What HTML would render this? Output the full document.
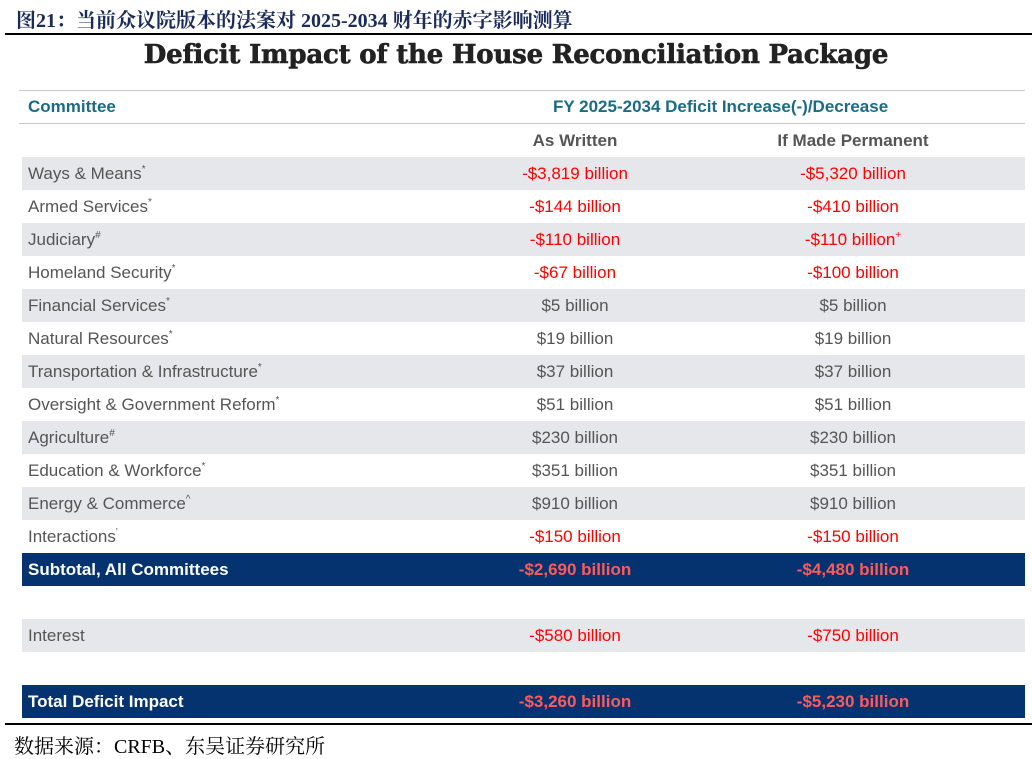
<!DOCTYPE html>
<html><head><meta charset="utf-8"><style>
body{margin:0;width:1032px;height:755px;background:#fff;position:relative;overflow:hidden;font-family:"Liberation Sans",sans-serif}
.a{position:absolute}
.r{position:absolute;left:22px;width:1003px;height:33px;font-size:17px;color:#555}
.r span{position:absolute;top:7px}
.l{left:6px}
.c1{left:493px;width:120px;text-align:center}
.c2{left:771px;width:120px;text-align:center}
.s{background:#e6e7ea}
.red{color:#f00}
.n{background:#04336f;color:#fff;font-weight:bold}
.n .v{color:#ff5a5a}
sup{font-size:10px;vertical-align:7px}
</style></head><body>
<div class="a" style="left:16px;top:4px;font:bold 20px 'Liberation Serif','Noto Serif CJK SC',serif;color:#1a2a5a">图21：当前众议院版本的法案对 2025-2034 财年的赤字影响测算</div>
<div class="a" style="left:5px;top:33px;width:1027px;height:2px;background:#000"></div>
<div class="a" style="left:0;width:1032px;top:40px;text-align:center;font:bold 26px 'DejaVu Serif','Liberation Serif',serif;color:#222;letter-spacing:-0.2px;-webkit-text-stroke:0.6px #222">Deficit Impact of the House Reconciliation Package</div>
<div class="a" style="left:19px;top:90px;width:1006px;height:1px;background:#c8c8c8"></div>
<div class="a" style="left:28px;top:97px;font-weight:bold;font-size:17px;color:#1a6b85">Committee</div>
<div class="a" style="left:553px;top:97px;font-weight:bold;font-size:17px;color:#1a6b85">FY 2025-2034 Deficit Increase(-)/Decrease</div>
<div class="a" style="left:19px;top:123px;width:1006px;height:1px;background:#c8c8c8"></div>
<div class="a" style="left:515px;width:120px;text-align:center;top:131px;font-weight:bold;font-size:17px;color:#555">As Written</div>
<div class="a" style="left:773px;width:160px;text-align:center;top:131px;font-weight:bold;font-size:17px;color:#555">If Made Permanent</div>

<div class="r s" style="top:157px"><span class="l">Ways &amp; Means<sup>*</sup></span><span class="c1 red">-$3,819 billion</span><span class="c2 red">-$5,320 billion</span></div>
<div class="r" style="top:190px"><span class="l">Armed Services<sup>*</sup></span><span class="c1 red">-$144 billion</span><span class="c2 red">-$410 billion</span></div>
<div class="r s" style="top:223px"><span class="l">Judiciary<sup>#</sup></span><span class="c1 red">-$110 billion</span><span class="c2 red">-$110 billion<sup>+</sup></span></div>
<div class="r" style="top:256px"><span class="l">Homeland Security<sup>*</sup></span><span class="c1 red">-$67 billion</span><span class="c2 red">-$100 billion</span></div>
<div class="r s" style="top:289px"><span class="l">Financial Services<sup>*</sup></span><span class="c1">$5 billion</span><span class="c2">$5 billion</span></div>
<div class="r" style="top:322px"><span class="l">Natural Resources<sup>*</sup></span><span class="c1">$19 billion</span><span class="c2">$19 billion</span></div>
<div class="r s" style="top:355px"><span class="l">Transportation &amp; Infrastructure<sup>*</sup></span><span class="c1">$37 billion</span><span class="c2">$37 billion</span></div>
<div class="r" style="top:388px"><span class="l">Oversight &amp; Government Reform<sup>*</sup></span><span class="c1">$51 billion</span><span class="c2">$51 billion</span></div>
<div class="r s" style="top:421px"><span class="l">Agriculture<sup>#</sup></span><span class="c1">$230 billion</span><span class="c2">$230 billion</span></div>
<div class="r" style="top:454px"><span class="l">Education &amp; Workforce<sup>*</sup></span><span class="c1">$351 billion</span><span class="c2">$351 billion</span></div>
<div class="r s" style="top:487px"><span class="l">Energy &amp; Commerce<sup>^</sup></span><span class="c1">$910 billion</span><span class="c2">$910 billion</span></div>
<div class="r" style="top:520px"><span class="l">Interactions<sup>'</sup></span><span class="c1 red">-$150 billion</span><span class="c2 red">-$150 billion</span></div>
<div class="r n" style="top:553px"><span class="l">Subtotal, All Committees</span><span class="c1 v">-$2,690 billion</span><span class="c2 v">-$4,480 billion</span></div>
<div class="r s" style="top:619px"><span class="l">Interest</span><span class="c1 red">-$580 billion</span><span class="c2 red">-$750 billion</span></div>
<div class="r n" style="top:685px"><span class="l">Total Deficit Impact</span><span class="c1 v">-$3,260 billion</span><span class="c2 v">-$5,230 billion</span></div>

<div class="a" style="left:5px;top:723px;width:1027px;height:2px;background:#000"></div>
<div class="a" style="left:14px;top:730px;font:20px 'Liberation Serif','Noto Serif CJK SC',serif;color:#000">数据来源：CRFB、东吴证券研究所</div>
</body></html>
